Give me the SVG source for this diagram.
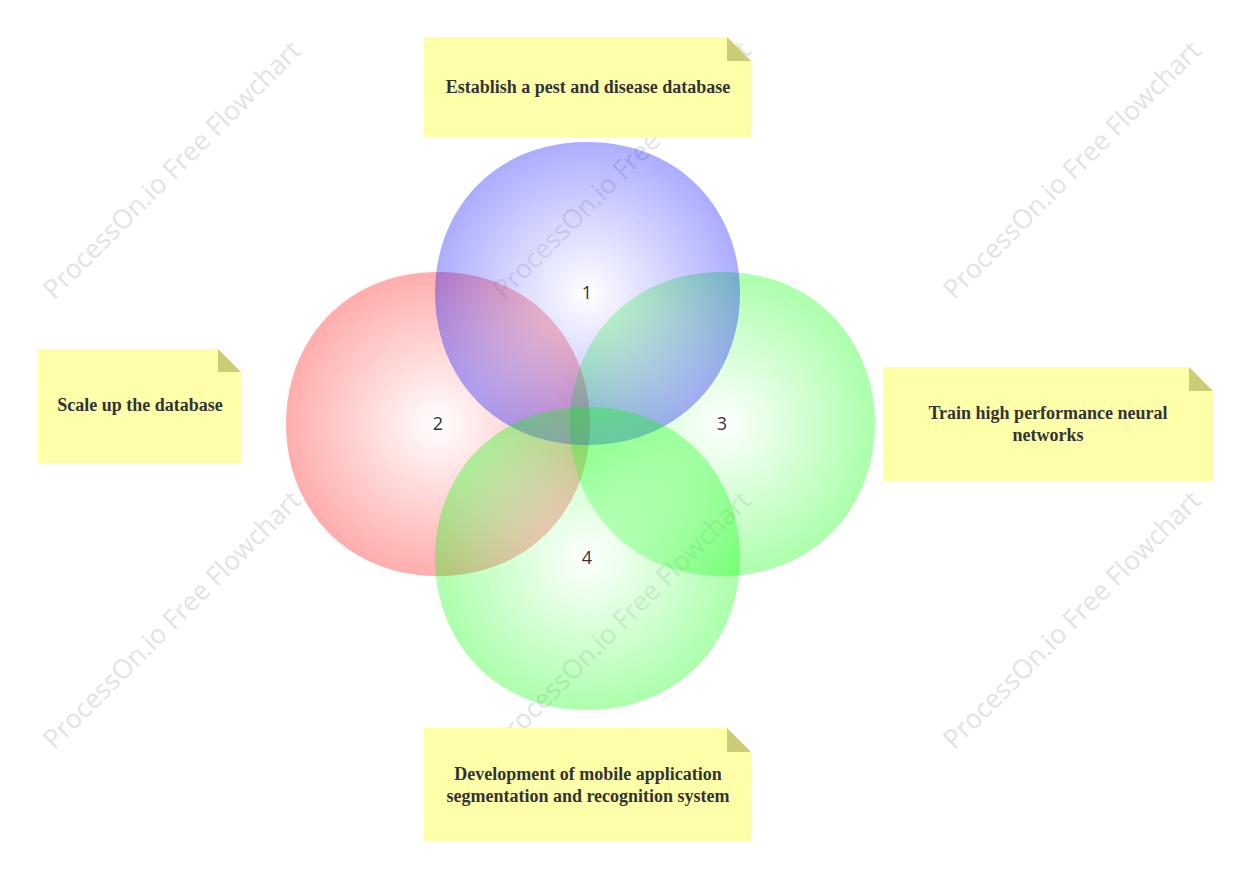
<svg xmlns="http://www.w3.org/2000/svg" width="1249" height="879" viewBox="0 0 1249 879">
<style>
.wm{font-family:"Open Sans","Noto Sans",sans-serif;font-size:26.5px;fill:#e3e3e3;text-anchor:middle}
.note{fill:#ffffaa}
.fold{fill:#cccc77}
.nt{font-family:"Liberation Serif","Times New Roman",serif;font-weight:bold;font-size:18px;fill:#333333;text-anchor:middle}
.num{font-family:"Open Sans","Noto Sans",sans-serif;font-size:18px;fill:#333333;text-anchor:middle}
.c path{fill-opacity:0.32}
</style>
<defs>
<radialGradient id="gb" cx="0.5" cy="0.5" r="0.5"><stop offset="0" stop-color="#ffffff"/><stop offset="1" stop-color="#0000ff"/></radialGradient>
<radialGradient id="gr" cx="0.5" cy="0.5" r="0.5"><stop offset="0" stop-color="#ffffff"/><stop offset="1" stop-color="#ff0000"/></radialGradient>
<radialGradient id="gg" cx="0.5" cy="0.5" r="0.5"><stop offset="0" stop-color="#ffffff"/><stop offset="1" stop-color="#00ff00"/></radialGradient>
</defs>
<rect width="1249" height="879" fill="#ffffff"/>
<g id="watermarks">
<text class="wm" transform="translate(172,170) rotate(-45)" dy="9">ProcessOn.io Free Flowchart</text>
<text class="wm" transform="translate(622,170) rotate(-45)" dy="9">ProcessOn.io Free Flowchart</text>
<text class="wm" transform="translate(1072,170) rotate(-45)" dy="9">ProcessOn.io Free Flowchart</text>
<text class="wm" transform="translate(172,620) rotate(-45)" dy="9">ProcessOn.io Free Flowchart</text>
<text class="wm" transform="translate(622,620) rotate(-45)" dy="9">ProcessOn.io Free Flowchart</text>
<text class="wm" transform="translate(1072,620) rotate(-45)" dy="9">ProcessOn.io Free Flowchart</text>
</g>
<g id="circle2" class="c"><path d="M438,272 C530,272 590,340 590,424 C590,508 530,576 438,576 C346,576 286,508 286,424 C286,340 346,272 438,272 Z" fill="url(#gr)"/><text class="num" x="438" y="430">2</text></g>
<g id="circle3" class="c"><path d="M722,272 C814,272 875,340 875,424 C875,508 814,576 722,576 C630,576 570,508 570,424 C570,340 630,272 722,272 Z" fill="url(#gg)"/><text class="num" x="722" y="430">3</text></g>
<g id="circle1" class="c"><path d="M587,142 C679,142 740,209 740,293 C740,377 679,445 587,445 C495,445 435,377 435,293 C435,209 495,142 587,142 Z" fill="url(#gb)"/><text class="num" x="587" y="299">1</text></g>
<g id="circle4" class="c"><path d="M587,407 C679,407 740,474 740,558 C740,642 679,710 587,710 C495,710 435,642 435,558 C435,474 495,407 587,407 Z" fill="url(#gg)"/><text class="num" x="587" y="564">4</text></g>
<g id="note1"><path class="note" d="M424,37 H727 L751,61 V138 H424 Z"/><path class="fold" d="M727,37 L751,61 H727 Z"/><text class="nt" x="588" y="93">Establish a pest and disease database</text></g>
<g id="note2"><path class="note" d="M38,349 H218 L241,372 V463 H38 Z"/><path class="fold" d="M218,349 L241,372 H218 Z"/><text class="nt" x="140" y="411">Scale up the database</text></g>
<g id="note3"><path class="note" d="M883,367 H1189 L1213,391 V481 H883 Z"/><path class="fold" d="M1189,367 L1213,391 H1189 Z"/><text class="nt" x="1048" y="419">Train high performance neural</text><text class="nt" x="1048" y="441">networks</text></g>
<g id="note4"><path class="note" d="M424,728 H727 L751,752 V841 H424 Z"/><path class="fold" d="M727,728 L751,752 H727 Z"/><text class="nt" x="588" y="780">Development of mobile application</text><text class="nt" x="588" y="802">segmentation and recognition system</text></g>
<g id="connectors"></g>
</svg>
